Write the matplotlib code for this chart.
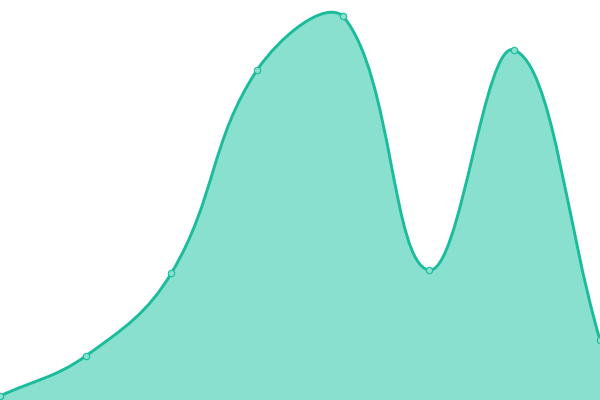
import numpy as np
import matplotlib
matplotlib.use('Agg')
import matplotlib.pyplot as plt
from matplotlib.path import Path
from matplotlib.patches import PathPatch

# values (y axis 0..400, bottom = 0)
xs = [0, 1, 2, 3, 4, 5, 6, 7]
ys = [4, 44, 127, 330, 384, 130, 350, 60]

LINE = '#1abc9c'
FILL = '#89e0cf'


def spline_path(x, y, t=0.4, sx=600 / 7, box=(0, 600, 0, 400)):
    # tension spline with distance-weighted control points, capped to the plot box
    p = np.column_stack([np.asarray(x, float) * sx, np.asarray(y, float)])
    n = len(p)
    prev_c, next_c = [], []
    for i in range(n):
        a = p[i - 1] if i > 0 else p[i]
        b = p[i + 1] if i < n - 1 else p[i]
        d01 = np.hypot(*(p[i] - a))
        d12 = np.hypot(*(b - p[i]))
        s = d01 + d12
        fa = t * d01 / s if s else 0
        fb = t * d12 / s if s else 0
        prev_c.append(p[i] - fa * (b - a))
        next_c.append(p[i] + fb * (b - a))
    lo = np.array([box[0], box[2]])
    hi = np.array([box[1], box[3]])
    prev_c = [np.clip(c, lo, hi) for c in prev_c]
    next_c = [np.clip(c, lo, hi) for c in next_c]
    verts = [p[0]]
    codes = [Path.MOVETO]
    for i in range(n - 1):
        verts += [next_c[i], prev_c[i + 1], p[i + 1]]
        codes += [Path.CURVE4] * 3
    verts = [(vx / sx, vy) for vx, vy in verts]
    return verts, codes


fig = plt.figure(figsize=(6, 4), dpi=100)
ax = fig.add_axes([0, 0, 1, 1])
ax.set_xlim(0, 7)
ax.set_ylim(0, 400)
ax.axis('off')

verts, codes = spline_path(xs, ys)

# filled area down to the baseline
fv = verts + [(xs[-1], 0), (xs[0], 0), verts[0]]
fc = codes + [Path.LINETO, Path.LINETO, Path.CLOSEPOLY]
ax.add_patch(PathPatch(Path(fv, fc), facecolor=FILL, edgecolor='none', zorder=1))

# the line on top
ax.add_patch(PathPatch(Path(verts, codes), facecolor='none', edgecolor=LINE,
                       lw=2.1, zorder=2))

ax.plot(xs, ys, 'o', ms=4.6, mfc=FILL, mec=LINE, mew=0.8, zorder=3, clip_on=False)

fig.savefig('out.png', dpi=100)
